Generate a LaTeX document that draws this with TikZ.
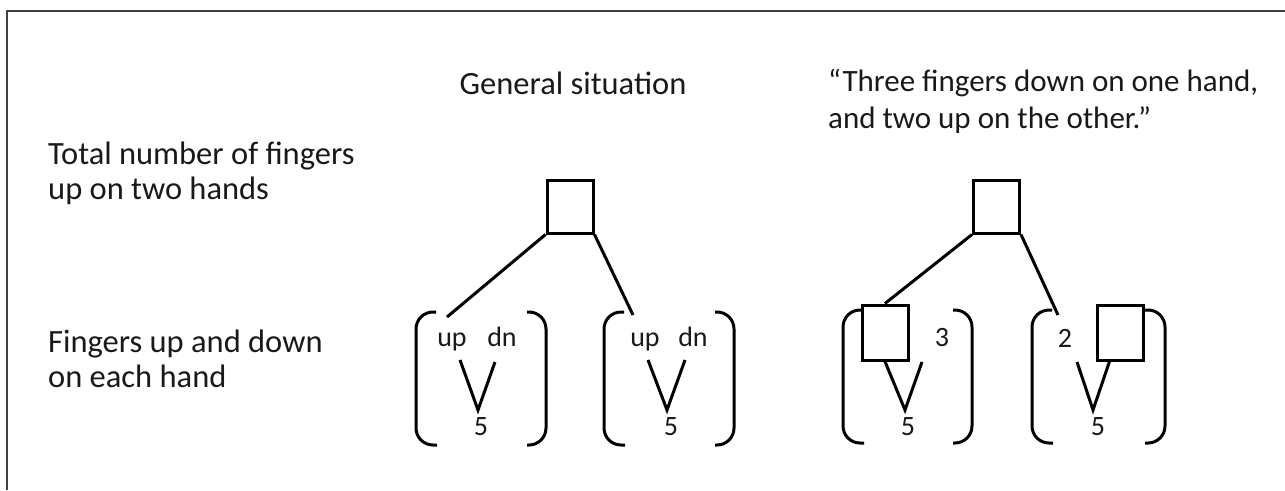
\documentclass[tikz,border=0pt]{standalone}
\usepackage{fontspec}
\setmainfont{Carlito}
\begin{document}
\begin{tikzpicture}[x=1pt,y=-1pt,
  label/.style={font=\fontsize{32.5}{35}\selectfont, text=black!90, inner sep=0pt, align=left},
  quotelabel/.style={label, font=\fontsize{31}{37}\selectfont},
  small/.style={font=\fontsize{28}{30}\selectfont, text=black!90, inner sep=0pt},
  box/.style={draw, line width=3pt, minimum width=46pt, minimum height=53pt, inner sep=0pt},
  handbox/.style={box, minimum height=55pt},
  link/.style={line width=3pt},
  paren/.style={line width=3pt, rounded corners=17pt},
]
\useasboundingbox (0,0) rectangle (1285,490);
% frame
\draw[line width=2pt, black!75] (1285,10.5) -- (6.5,10.5) -- (6.5,490);

% headings
\node[label] (general) at (573,83) {General situation};
\node[quotelabel, anchor=west] (quote) at (828,101) {\textquotedblleft Three fingers down on one hand,\\and two up on the other.\textquotedblright};

% row labels
\node[label, anchor=west] (total) at (48,173) {Total number of fingers\\up on two hands};
\node[label, anchor=west] (hands) at (48,359) {Fingers up and down\\on each hand};

% ---------- general situation ----------
\node[box] (topA) at (570,206.5) {};
\coordinate (endA1) at (447,317);
\coordinate (endA2) at (633,315);
\draw[link] (topA.south west) -- (endA1);
\draw[link] (topA.south east) -- (endA2);

% hand 1
\draw[paren] (436,312) -- (416,312) -- (416,445) -- (437,445);
\draw[paren] (527,312) -- (546,312) -- (546,445) -- (527,445);
\node[small, anchor=base] (up1) at (452,346) {up};
\node[small, anchor=base] (dn1) at (502,346) {dn};
\node[small] (five1) at (481,427) {5};
\coordinate (v1l) at (460,360);
\coordinate (v1b) at (478,410);
\coordinate (v1r) at (495,362);
\draw[link] (v1l) -- (v1b) -- (v1r);

% hand 2
\draw[paren] (624,312) -- (604,312) -- (604,445) -- (625,445);
\draw[paren] (715,312) -- (734,312) -- (734,445) -- (715,445);
\node[small, anchor=base] (up2) at (645,346) {up};
\node[small, anchor=base] (dn2) at (693,346) {dn};
\node[small] (five2) at (671,427) {5};
\coordinate (v2l) at (648,360);
\coordinate (v2b) at (667,410);
\coordinate (v2r) at (685,360);
\draw[link] (v2l) -- (v2b) -- (v2r);

% ---------- the worked example ----------
\node[box] (topB) at (996.5,206.5) {};
\node[handbox] (boxB1) at (885,332.5) {};
\node[handbox] (boxB2) at (1120,332.5) {};
\coordinate (endB2) at (1058,315);
\draw[link] (topB.south west) -- (boxB1.north);
\draw[link] (topB.south east) -- (endB2);

% hand 3
\draw[paren] (863,310) -- (843,310) -- (843,443) -- (864,443);
\draw[paren] (953,310) -- (972,310) -- (972,443) -- (953,443);
\node[small] (three) at (942,338) {3};
\node[small] (five3) at (908,427) {5};
\coordinate (v3b) at (905,410);
\coordinate (v3r) at (922,362);
\draw[link] (boxB1.south) -- (v3b) -- (v3r);

% hand 4
\draw[paren] (1052,310) -- (1032,310) -- (1032,443) -- (1053,443);
\draw[paren] (1145,310) -- (1165,310) -- (1165,443) -- (1145,443);
\node[small] (two) at (1065,338) {2};
\node[small] (five4) at (1098,427) {5};
\coordinate (v4l) at (1077,362);
\coordinate (v4b) at (1093,410);
\coordinate (v4r) at (1110,360);
\draw[link] (v4l) -- (v4b) -- (v4r);
\end{tikzpicture}
\end{document}
